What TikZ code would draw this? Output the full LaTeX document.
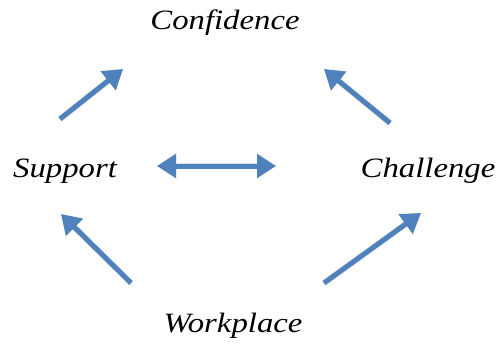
\documentclass[tikz,border=0pt]{standalone}
\usepackage{fontspec}
\setmainfont[FakeStretch=1.17]{Liberation Serif}
\usetikzlibrary{arrows.meta}
\definecolor{arrowblue}{HTML}{4F81BD}
\tikzset{
  label text/.style={inner sep=0pt, anchor=base, font=\fontsize{28}{30}\selectfont\itshape},
  bluearrow/.style={draw=arrowblue, line width=5pt, -{Triangle[length=19pt, width=23pt]}},
  bluedouble/.style={draw=arrowblue, line width=5pt, {Triangle[length=19pt, width=23pt]}-{Triangle[length=19pt, width=23pt]}},
  shade arrow/.style={draw=black, opacity=0.12, line width=6pt, -{Triangle[length=19pt, width=24pt]}},
  shade double/.style={draw=black, opacity=0.12, line width=6pt, {Triangle[length=19pt, width=24pt]}-{Triangle[length=19pt, width=24pt]}},
}
\begin{document}
\begin{tikzpicture}[x=1pt, y=-1pt]
  \useasboundingbox (0,0) rectangle (501,345);
  \fill[white] (0,0) rectangle (501,345);

  % words
  \node[label text] (conf) at (225,30) {Confidence};
  \node[label text] (supp) at (65,177) {Support};
  \node[label text] (chal) at (428,177) {Challenge};
  \node[label text] (work) at (233,332) {Workplace};

  % arrow end points
  \coordinate (a1s) at (60,119);  \coordinate (a1e) at (123,69);
  \coordinate (a2s) at (390,123); \coordinate (a2e) at (324,69);
  \coordinate (a3s) at (157,166); \coordinate (a3e) at (276,166);
  \coordinate (a4s) at (131,283); \coordinate (a4e) at (61,214);
  \coordinate (a5s) at (324,283); \coordinate (a5e) at (421,213);

  % soft shadows
  \begin{scope}[shift={(1.5,2.5)}]
    \draw[shade arrow] (a1s) -- (a1e);
    \draw[shade arrow] (a2s) -- (a2e);
    \draw[shade double] (a3s) -- (a3e);
    \draw[shade arrow] (a4s) -- (a4e);
    \draw[shade arrow] (a5s) -- (a5e);
  \end{scope}

  % arrows
  \draw[bluearrow] (a1s) -- (a1e);
  \draw[bluearrow] (a2s) -- (a2e);
  \draw[bluedouble] (a3s) -- (a3e);
  \draw[bluearrow] (a4s) -- (a4e);
  \draw[bluearrow] (a5s) -- (a5e);
\end{tikzpicture}
\end{document}
